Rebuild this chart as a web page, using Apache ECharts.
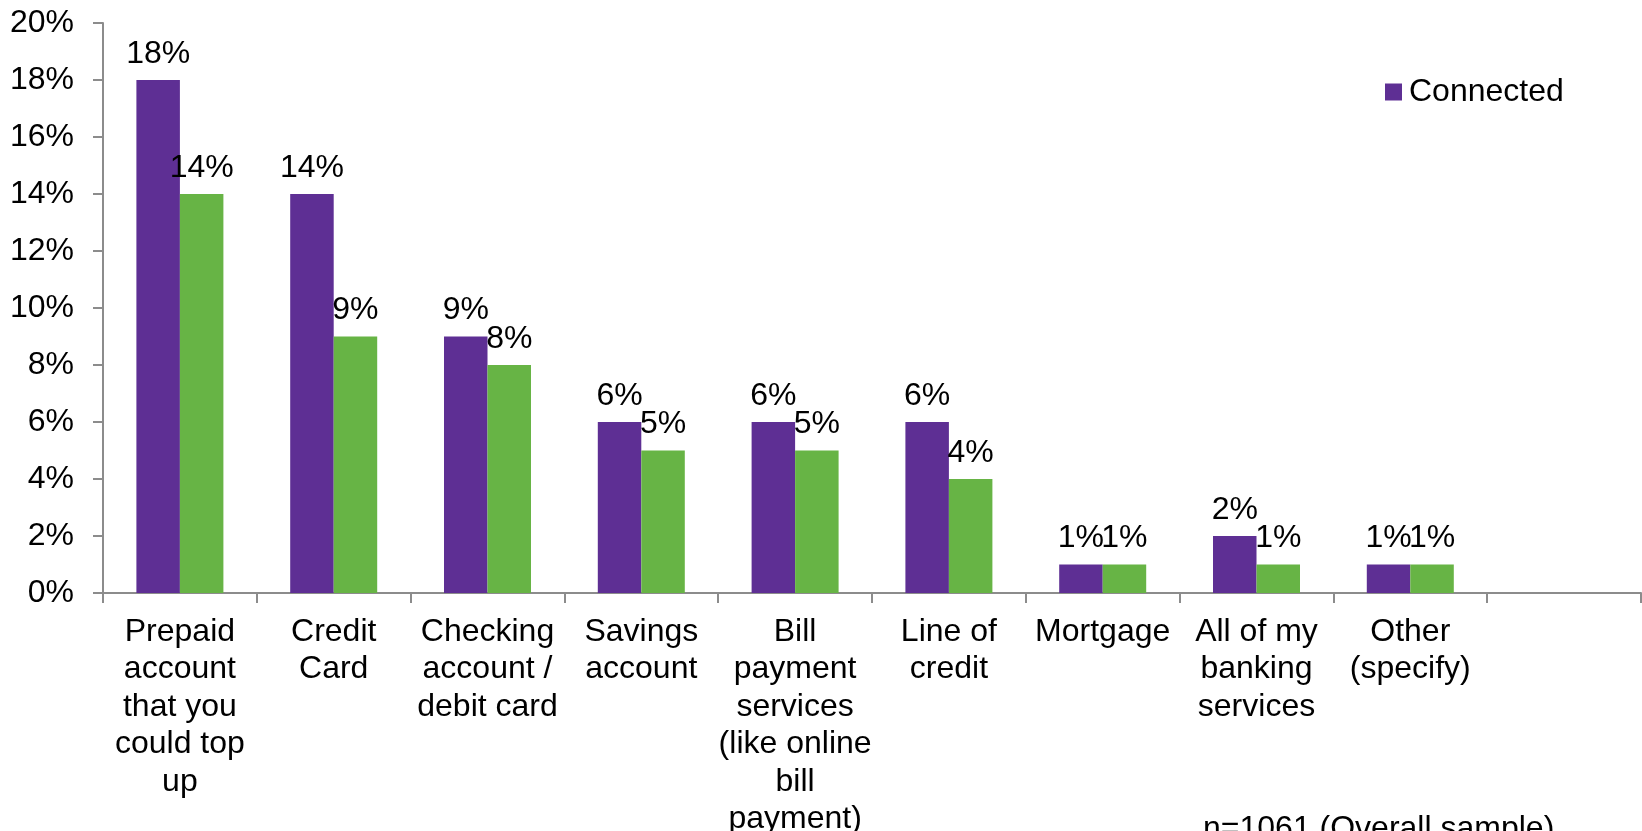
<!DOCTYPE html>
<html>
<head>
<meta charset="utf-8">
<script src="https://cdn.jsdelivr.net/npm/echarts@6/dist/echarts.min.js"></script>
<style>
  html, body { margin: 0; padding: 0; background: #fff; }
  #chart { width: 1642px; height: 831px; }
</style>
</head>
<body>
<div id="chart"></div>
<script>
// categories (last slot is empty in the original)
const categories = [
  "Prepaid\naccount\nthat you\ncould top\nup",
  "Credit\nCard",
  "Checking\naccount /\ndebit card",
  "Savings\naccount",
  "Bill\npayment\nservices\n(like online\nbill\npayment)",
  "Line of\ncredit",
  "Mortgage",
  "All of my\nbanking\nservices",
  "Other\n(specify)",
  ""
];
const connected = [18, 14, 9, 6, 6, 6, 1, 2, 1, null];
const overall = [14, 9, 8, 5, 5, 4, 1, 1, 1, null];
const yTicks = { min: 0, max: 20, interval: 2 };
const footnote = "n=1061 (Overall sample)";

const FONT = "Liberation Sans, Arial, sans-serif";
const FS = 32;
const axisGray = "#8c8c8c";

const chart = echarts.init(document.getElementById("chart"));

const barLabel = {
  show: true,
  position: "top",
  distance: 10,
  formatter: "{c}%",
  color: "#000",
  fontFamily: FONT,
  fontSize: FS
};

chart.setOption({
  backgroundColor: "#fff",
  animation: false,
  grid: { left: 103, right: 1, top: 23, bottom: 238, outerBoundsMode: "none", containLabel: false },
  legend: {
    data: ["Connected"],
    left: 1385,
    top: 76,
    padding: 0,
    itemWidth: 17,
    itemHeight: 17,
    icon: "rect",
    textStyle: { fontFamily: FONT, fontSize: FS, color: "#000", padding: [0, 0, 0, 2] }
  },
  xAxis: {
    type: "category",
    data: categories,
    axisLine: { lineStyle: { color: axisGray, width: 2 } },
    axisTick: { show: true, length: 10, lineStyle: { color: axisGray, width: 2 } },
    axisLabel: {
      interval: 0,
      margin: 20,
      color: "#000",
      fontFamily: FONT,
      fontSize: FS,
      lineHeight: 37.5,
      align: "center"
    }
  },
  yAxis: {
    type: "value",
    min: yTicks.min,
    max: yTicks.max,
    interval: yTicks.interval,
    axisLine: { show: true, lineStyle: { color: axisGray, width: 2 } },
    axisTick: { show: true, length: 10, lineStyle: { color: axisGray, width: 2 } },
    splitLine: { show: false },
    axisLabel: {
      margin: 29,
      formatter: "{value}%",
      color: "#000",
      fontFamily: FONT,
      fontSize: FS
    }
  },
  series: [
    {
      name: "Connected",
      type: "bar",
      data: connected,
      barWidth: 43.5,
      barGap: "0%",
      itemStyle: { color: "#5e2f94" },
      label: barLabel
    },
    {
      name: "Overall",
      type: "bar",
      data: overall,
      barWidth: 43.5,
      barGap: "0%",
      itemStyle: { color: "#67b445" },
      label: barLabel
    }
  ],
  graphic: [
    {
      type: "text",
      left: 1203,
      top: 813,
      style: {
        text: footnote,
        fontFamily: FONT,
        fontSize: FS,
        fill: "#000"
      }
    }
  ]
});
</script>
</body>
</html>
